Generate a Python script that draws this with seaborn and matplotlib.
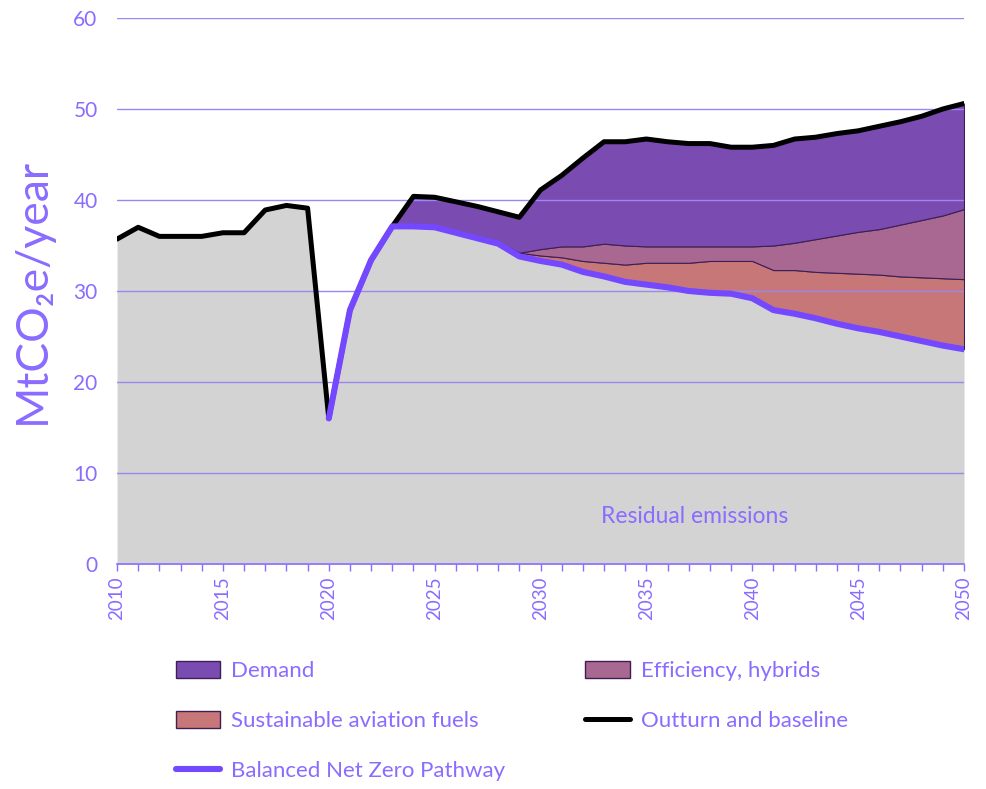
import numpy as np
import pandas as pd
import matplotlib
matplotlib.use("Agg")
import matplotlib.pyplot as plt
from matplotlib.patches import Patch
from matplotlib.lines import Line2D
import seaborn as sns

years = list(range(2010, 2051))

# outturn (2010-2022) and baseline (2023-2050)
baseline = [35.7, 37.0, 36.0, 36.0, 36.0, 36.4, 36.4, 38.9, 39.4, 39.1,
            16.0, 27.9, 33.4, 37.1, 40.4, 40.3, 39.8, 39.3, 38.7, 38.1,
            41.1, 42.7, 44.6, 46.4, 46.4, 46.7, 46.4, 46.2, 46.2, 45.8,
            45.8, 46.0, 46.7, 46.9, 47.3, 47.6, 48.1, 48.6, 49.2, 50.0, 50.6]

# Balanced Net Zero Pathway, 2020-2050
pathway_years = list(range(2020, 2051))
pathway = [16.0, 27.9, 33.4, 37.1, 37.1, 37.0, 36.4, 35.8, 35.2, 33.8,
           33.3, 32.9, 32.1, 31.6, 31.0, 30.7, 30.4, 30.0, 29.8, 29.7,
           29.2, 27.9, 27.5, 27.0, 26.4, 25.9, 25.5, 25.0, 24.5, 24.0, 23.6]

# top of stacked abatement layers, 2023-2050
layer_years = list(range(2023, 2051))
saf_top = [37.1, 37.1, 37.0, 36.4, 35.9, 35.3, 34.2, 33.9, 33.7, 33.3,
           33.1, 32.9, 33.1, 33.1, 33.1, 33.3, 33.3, 33.3, 32.3, 32.3,
           32.1, 32.0, 31.9, 31.8, 31.6, 31.5, 31.4, 31.3]
eff_top = [37.1, 37.1, 37.0, 36.5, 36.0, 35.4, 34.2, 34.6, 34.9, 34.9,
           35.2, 35.0, 34.9, 34.9, 34.9, 34.9, 34.9, 34.9, 35.0, 35.3,
           35.7, 36.1, 36.5, 36.8, 37.3, 37.8, 38.3, 39.0]

purple_txt = "#8a6cff"
grid_col = "#9a88f0"

df = pd.DataFrame({"year": years, "baseline": baseline})
pw = pd.DataFrame({"year": pathway_years, "pathway": pathway})
df = df.merge(pw, on="year", how="left")
ly = pd.DataFrame({"year": layer_years, "saf_top": saf_top, "eff_top": eff_top})
df = df.merge(ly, on="year", how="left")
df["residual"] = df["pathway"].fillna(df["baseline"])

sns.set_theme(style="white")
plt.rcParams["font.family"] = ["Lato", "DejaVu Sans"]

fig = plt.figure(figsize=(9.86, 7.89), dpi=100)
ax = fig.add_axes([0.1187, 0.2852, 0.859, 0.692])

lay = df.dropna(subset=["saf_top"])
edge = "#3d1f55"
ax.fill_between(df["year"], 0, df["residual"], color="#d3d3d3", lw=0, zorder=1)
ax.fill_between(lay["year"], lay["pathway"], lay["saf_top"], color="#c87779",
                edgecolor=edge, lw=0.8, zorder=2)
ax.fill_between(lay["year"], lay["saf_top"], lay["eff_top"], color="#a86891",
                edgecolor=edge, lw=0.8, zorder=2)
ax.fill_between(lay["year"], lay["eff_top"], lay["baseline"], color="#7a4bb0",
                edgecolor=edge, lw=0.8, zorder=2)

sns.lineplot(data=df, x="year", y="baseline", color="black", lw=3.6, ax=ax, zorder=4)
sns.lineplot(data=df.dropna(subset=["pathway"]), x="year", y="pathway",
             color="#7448ff", lw=4.4, ax=ax, zorder=5)

ax.set_xlim(2010, 2050)
ax.set_ylim(0, 60)
ax.set_yticks(range(0, 61, 10))
ax.yaxis.grid(True, color=grid_col, lw=1.0, zorder=3)
ax.set_axisbelow(False)
for gl in ax.get_ygridlines():
    gl.set_zorder(3)
ax.set_xticks(range(2010, 2051, 5))
ax.set_xticks(range(2010, 2051), minor=True)
ax.tick_params(axis="x", which="both", direction="out", length=5, width=1,
               color=purple_txt, bottom=True, pad=4)
ax.tick_params(axis="x", labelsize=13.5, labelcolor=purple_txt, labelrotation=90)
ax.tick_params(axis="y", length=0, labelsize=15, labelcolor=purple_txt, pad=14)
for s in ["top", "right", "left"]:
    ax.spines[s].set_visible(False)
ax.spines["bottom"].set_color(purple_txt)
ax.spines["bottom"].set_linewidth(1.2)
ax.set_xlabel("")
ax.set_ylabel("MtCO\u2082e/year", fontsize=32, color=purple_txt, labelpad=15)

ax.text(2037.3, 5.2, "Residual emissions", color=purple_txt, fontsize=16.5,
        ha="center", va="center", zorder=6)

handles = [
    Patch(facecolor="#7a4bb0", edgecolor=edge, label="Demand"),
    Patch(facecolor="#c87779", edgecolor=edge, label="Sustainable aviation fuels"),
    Line2D([0], [0], color="#7448ff", lw=4.4, label="Balanced Net Zero Pathway"),
    Patch(facecolor="#a86891", edgecolor=edge, label="Efficiency, hybrids"),
    Line2D([0], [0], color="black", lw=3.6, label="Outturn and baseline"),
]
leg = fig.legend(handles=handles, loc="upper left", bbox_to_anchor=(0.158, 0.188),
                 ncol=2, frameon=False, fontsize=16, labelspacing=1.35,
                 columnspacing=3.6, handlelength=2.0, handleheight=0.8,
                 handletextpad=0.5)
for t in leg.get_texts():
    t.set_color(purple_txt)

fig.savefig("out.png", dpi=100)
